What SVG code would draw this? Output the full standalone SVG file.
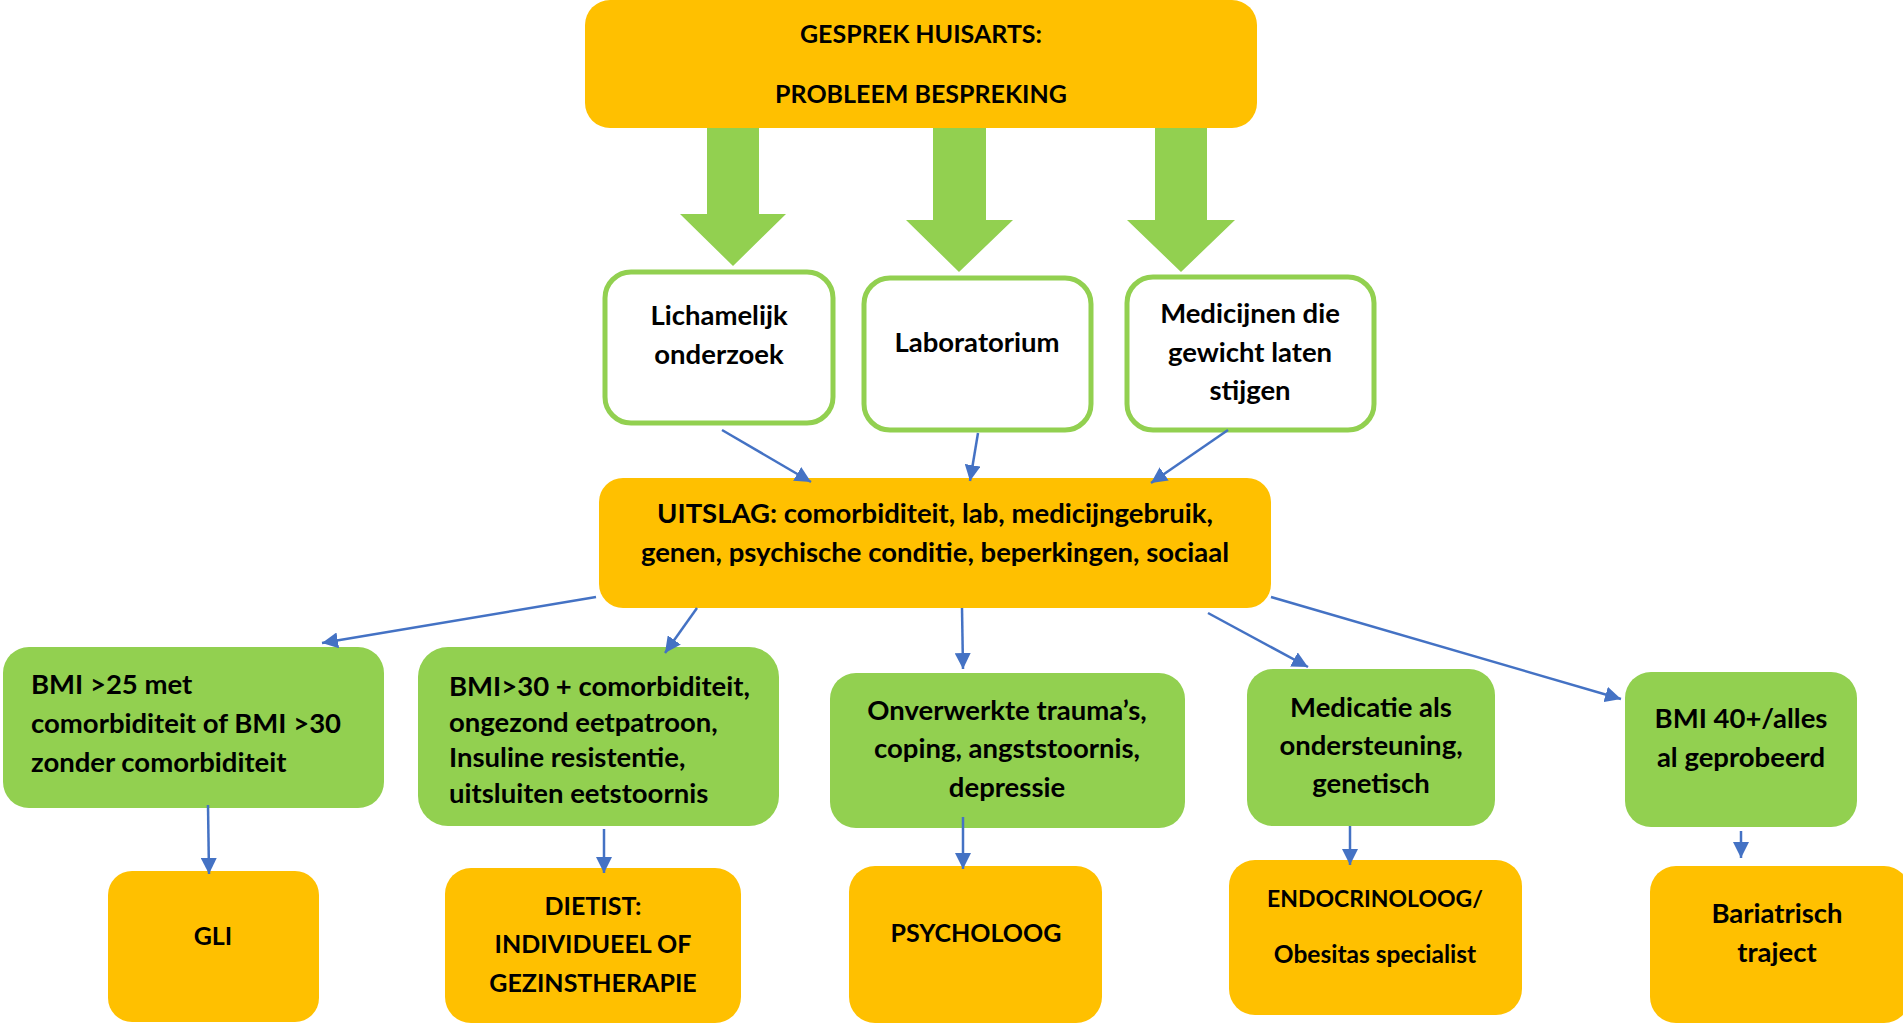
<svg xmlns="http://www.w3.org/2000/svg" width="1903" height="1023" viewBox="0 0 1903 1023">
<style>
.org{fill:#FFC000}
.grn{fill:#92D050}
.wht{fill:#FFFFFF;stroke:#92D050;stroke-width:5}
text{font-family:Lato,"Liberation Sans",sans-serif;font-weight:bold;font-size:27.5px;fill:#000}
.c{text-anchor:middle}
.cap{font-size:25px}
.e1{font-size:23px}
.e2{font-size:24.5px}
.con line{stroke:#4472C4;stroke-width:2.5;fill:none;marker-end:url(#ah)}
</style>
<defs>
<marker id="ah" markerUnits="userSpaceOnUse" markerWidth="16" markerHeight="16" refX="16" refY="8" orient="auto">
<path d="M0,0 L16,8 L0,16 z" fill="#4472C4"/>
</marker>
</defs>
<rect width="1903" height="1023" fill="#FFFFFF"/>

<g id="n-gesprek">
<rect class="org" x="585" y="0" width="672" height="128" rx="25"/>
<text class="c cap" x="921" y="43">GESPREK HUISARTS:</text>
<text class="c cap" x="921" y="103">PROBLEEM BESPREKING</text>
</g>

<g id="block-arrows">
<polygon class="grn" points="707,128 759,128 759,214 786,214 733,266 680,214 707,214"/>
<polygon class="grn" points="933,128 986,128 986,220 1013,220 959,272 906,220 933,220"/>
<polygon class="grn" points="1155,128 1207,128 1207,220 1235,220 1181,272 1127,220 1155,220"/>
</g>

<g id="n-lichamelijk">
<rect class="wht" x="605" y="272" width="228" height="151" rx="26"/>
<text class="c" x="719" y="325">Lichamelijk</text>
<text class="c" x="719" y="364">onderzoek</text>
</g>
<g id="n-laboratorium">
<rect class="wht" x="864" y="278" width="227" height="152" rx="26"/>
<text class="c" x="977" y="352">Laboratorium</text>
</g>
<g id="n-medicijnen">
<rect class="wht" x="1127" y="277" width="247" height="153" rx="26"/>
<text class="c" x="1250" y="323">Medicijnen die</text>
<text class="c" x="1250" y="362">gewicht laten</text>
<text class="c" x="1250" y="400">stijgen</text>
</g>

<g id="n-uitslag">
<rect class="org" x="599" y="478" width="672" height="130" rx="24"/>
<text class="c" x="935" y="523">UITSLAG: comorbiditeit, lab, medicijngebruik,</text>
<text class="c" x="935" y="562">genen, psychische conditie, beperkingen, sociaal</text>
</g>

<g id="n-bmi25">
<rect class="grn" x="3" y="647" width="381" height="161" rx="26"/>
<text x="31" y="694">BMI &gt;25 met</text>
<text x="31" y="733">comorbiditeit of BMI &gt;30</text>
<text x="31" y="772">zonder comorbiditeit</text>
</g>
<g id="n-bmi30">
<rect class="grn" x="418" y="647" width="361" height="179" rx="30"/>
<text x="449" y="696">BMI&gt;30 + comorbiditeit,</text>
<text x="449" y="732">ongezond eetpatroon,</text>
<text x="449" y="767">Insuline resistentie,</text>
<text x="449" y="803">uitsluiten eetstoornis</text>
</g>
<g id="n-trauma">
<rect class="grn" x="830" y="673" width="355" height="155" rx="26"/>
<text class="c" x="1007" y="720">Onverwerkte trauma’s,</text>
<text class="c" x="1007" y="758">coping, angststoornis,</text>
<text class="c" x="1007" y="797">depressie</text>
</g>
<g id="n-medicatie">
<rect class="grn" x="1247" y="669" width="248" height="157" rx="26"/>
<text class="c" x="1371" y="717">Medicatie als</text>
<text class="c" x="1371" y="755">ondersteuning,</text>
<text class="c" x="1371" y="793">genetisch</text>
</g>
<g id="n-bmi40">
<rect class="grn" x="1625" y="672" width="232" height="155" rx="26"/>
<text class="c" x="1741" y="728">BMI 40+/alles</text>
<text class="c" x="1741" y="767">al geprobeerd</text>
</g>

<g id="n-gli">
<rect class="org" x="108" y="871" width="211" height="151" rx="24"/>
<text class="c cap" x="213" y="945">GLI</text>
</g>
<g id="n-dietist">
<rect class="org" x="445" y="868" width="296" height="155" rx="26"/>
<text class="c cap" x="593" y="915">DIETIST:</text>
<text class="c cap" x="593" y="953">INDIVIDUEEL OF</text>
<text class="c cap" x="593" y="992">GEZINSTHERAPIE</text>
</g>
<g id="n-psycholoog">
<rect class="org" x="849" y="866" width="253" height="157" rx="26"/>
<text class="c cap" x="976" y="942">PSYCHOLOOG</text>
</g>
<g id="n-endo">
<rect class="org" x="1229" y="860" width="293" height="155" rx="26"/>
<text class="c e1" x="1375" y="907">ENDOCRINOLOOG/</text>
<text class="c e2" x="1375" y="963">Obesitas specialist</text>
</g>
<g id="n-bariatrisch">
<rect class="org" x="1650" y="866" width="260" height="157" rx="26"/>
<text class="c" x="1777" y="923">Bariatrisch</text>
<text class="c" x="1777" y="962">traject</text>
</g>

<g id="connectors" class="con">
<line x1="722" y1="430" x2="811" y2="482"/>
<line x1="978" y1="433" x2="970" y2="481"/>
<line x1="1228" y1="430" x2="1151" y2="483"/>
<line x1="596" y1="597" x2="322" y2="643"/>
<line x1="697" y1="608" x2="665" y2="653"/>
<line x1="962" y1="608" x2="963" y2="669"/>
<line x1="1208" y1="613" x2="1308" y2="667"/>
<line x1="1271" y1="597" x2="1621" y2="699"/>
<line x1="208" y1="805" x2="209" y2="874"/>
<line x1="604" y1="829" x2="604" y2="873"/>
<line x1="963" y1="817" x2="963" y2="869"/>
<line x1="1350" y1="826" x2="1350" y2="865"/>
<line x1="1741" y1="831" x2="1741" y2="858"/>
</g>
</svg>
